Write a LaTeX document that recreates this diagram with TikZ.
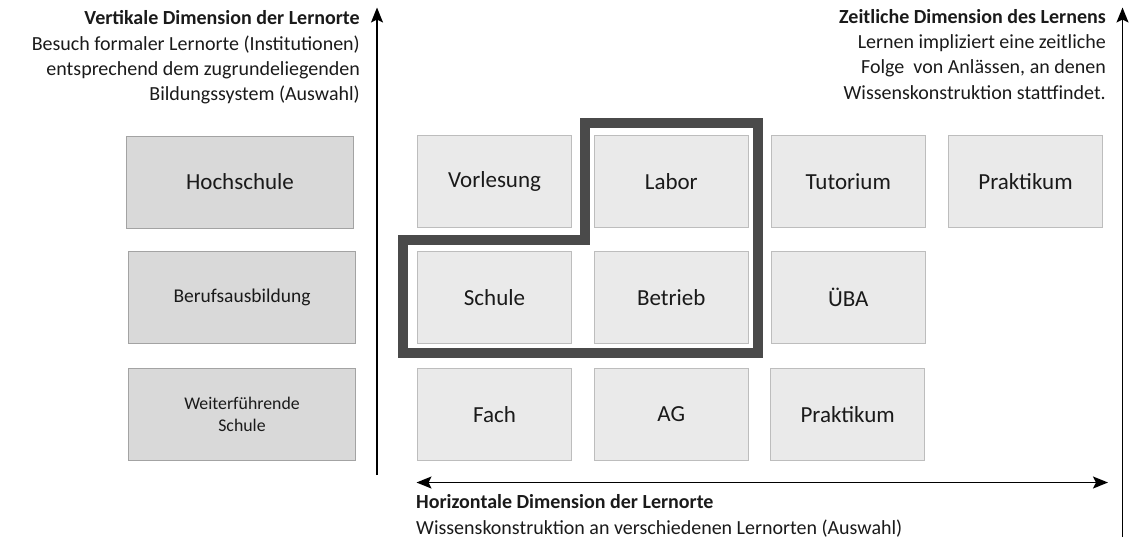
\documentclass[tikz,border=0pt]{standalone}
\usepackage{fontspec}
\setmainfont{Carlito}
\usetikzlibrary{arrows.meta}
\definecolor{leftfill}{HTML}{D9D9D9}
\definecolor{leftdraw}{HTML}{A3A3A3}
\definecolor{midfill}{HTML}{EAEAEA}
\definecolor{middraw}{HTML}{BDBDBD}
\definecolor{framec}{HTML}{4A4A4A}
\definecolor{txt}{HTML}{1A1A1A}
\tikzset{
  levelbox/.style={draw=leftdraw, fill=leftfill, line width=1pt, minimum width=227pt, minimum height=92pt, inner sep=0pt, text=txt, align=center},
  placebox/.style={draw=middraw, fill=midfill, line width=1pt, minimum width=154pt, minimum height=92pt, inner sep=0pt, text=txt, font=\fontsize{23}{26}\selectfont},
  annot/.style={inner sep=0pt, text=txt, font=\fontsize{20}{25}\selectfont},
  axis/.style={line width=1.5pt, draw=black},
  tip/.style={-{Stealth[length=15pt,width=12pt,inset=3pt]}},
  frameline/.style={draw=framec, line width=10pt, line join=miter}
}
\begin{document}
\begin{tikzpicture}[x=1pt,y=-1pt]
\useasboundingbox (0,0) rectangle (1134,542);
% left column
\node[levelbox, font=\fontsize{23}{26}\selectfont] (hoch) at (240,182) {Hochschule};
\node[levelbox, font=\fontsize{19.5}{23}\selectfont] (beruf) at (242,297.8) {Berufsausbildung};
\node[levelbox, font=\fontsize{17.8}{21.5}\selectfont] (weiter) at (242,414.4) {Weiterführende\\Schule};
% grid
\node[placebox] (vorl) at (494.5,181.2) {Vorlesung};
\node[placebox] (labor) at (671.3,181.2) {Labor};
\node[placebox] (tut) at (848.3,181.2) {Tutorium};
\node[placebox] (prak1) at (1025.5,181.2) {Praktikum};
\node[placebox] (schule) at (494.5,297.8) {Schule};
\node[placebox] (betrieb) at (671.3,297.8) {Betrieb};
\node[placebox] (uba) at (848.3,297.8) {ÜBA};
\node[placebox] (fach) at (494.5,414.4) {Fach};
\node[placebox] (ag) at (671.3,414.4) {AG};
\node[placebox] (prak2) at (847.7,414.4) {Praktikum};
% frame
\draw[frameline] (585,123.3) -- (758.3,123.3) -- (758.3,353.3) -- (403.3,353.3) -- (403.3,240) -- (585,240) -- cycle;
% axes
\coordinate (vbot) at (377,475);
\coordinate (vtop) at (377,7.5);
\coordinate (tbot) at (1122.5,537);
\coordinate (ttop) at (1122.5,7.5);
\coordinate (hl) at (416.5,482.5);
\coordinate (hr) at (1108,482.5);
\draw[axis, tip] (vbot) -- (vtop);
\draw[axis, tip] (tbot) -- (ttop);
\draw[axis, {Stealth[length=15pt,width=12pt,inset=3pt]}-{Stealth[length=15pt,width=12pt,inset=3pt]}] (hl) -- (hr);
% annotations left
\node[annot, anchor=base east] (vt) at (360,24) {\bfseries Vertikale Dimension der Lernorte};
\node[annot, anchor=base east] (v1) at (360,50) {Besuch formaler Lernorte (Institutionen)};
\node[annot, anchor=base east] (v2) at (360,75) {entsprechend dem zugrundeliegenden};
\node[annot, anchor=base east] (v3) at (360,100) {Bildungssystem (Auswahl)};
% annotations right
\node[annot, anchor=base east] (zt) at (1106,23) {\bfseries Zeitliche Dimension des Lernens};
\node[annot, anchor=base east] (z1) at (1106,48.5) {Lernen impliziert eine zeitliche};
\node[annot, anchor=base east] (z2) at (1106,73.5) {Folge\ \ von Anlässen, an denen};
\node[annot, anchor=base east] (z3) at (1106,99) {Wissenskonstruktion stattfindet.};
% annotations bottom
\node[annot, anchor=base west] (ht) at (416,508.5) {\bfseries Horizontale Dimension der Lernorte};
\node[annot, anchor=base west] (h1) at (416,534) {Wissenskonstruktion an verschiedenen Lernorten (Auswahl)};
\end{tikzpicture}
\end{document}
